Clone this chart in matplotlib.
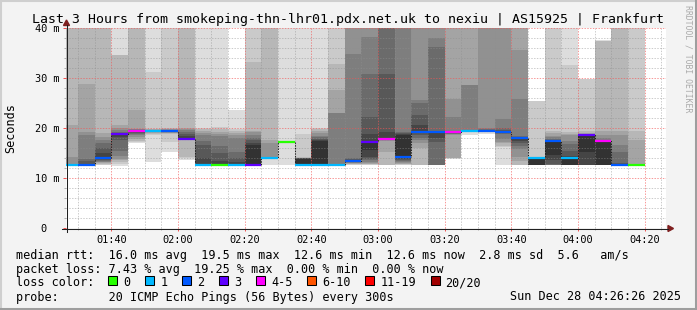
import matplotlib
matplotlib.use("Agg")
import matplotlib.pyplot as plt
from matplotlib.patches import Rectangle, Polygon
from matplotlib.ticker import MultipleLocator, FixedLocator

plt.rcParams['font.family'] = 'DejaVu Sans Mono'

# ---- data -------------------------------------------------------------
# start of each 5 minute slot, minutes after midnight (01:25 ... 04:15)
slot_start = [85, 90, 95, 100, 105, 110, 115, 120, 125, 130, 135, 140,
              145, 150, 155, 160, 165, 170, 175, 180, 185, 190, 195, 200,
              205, 210, 215, 220, 225, 230, 235, 240, 245, 250, 255]

# 20 sorted ping times (ms) per slot
pings = [
    [12.4, 12.5, 12.5, 12.5, 12.5, 12.5, 12.5, 12.6, 12.6, 12.6, 12.6, 12.6, 12.7, 12.7, 12.8, 14.3, 20.6, 45, 50, 50],
    [12.5, 12.5, 12.5, 12.5, 12.5, 12.5, 12.5, 12.5, 12.6, 12.6, 12.6, 12.8, 13.5, 13.9, 18.6, 19.3, 28.9, 45, 50, 50],
    [12.6, 12.7, 12.8, 13.0, 13.2, 13.3, 13.5, 13.7, 13.9, 14.0, 14.2, 15.0, 16.0, 17.0, 17.6, 18.3, 19.1, 45, 50, 50],
    [12.5, 12.9, 13.3, 13.6, 13.9, 14.5, 15.5, 17.6, 18.2, 18.8, 18.95, 19.0, 19.1, 19.3, 19.6, 20.0, 20.6, 34.6, 34.6, 50],
    [17.0, 17.2, 17.5, 17.9, 18.3, 18.6, 18.9, 19.1, 19.3, 19.4, 19.45, 19.5, 19.6, 19.7, 19.8, 19.9, 23.6, 45, 50, 50],
    [13.3, 18.6, 18.8, 19.0, 19.2, 19.3, 19.35, 19.35, 19.4, 19.4, 19.45, 19.5, 19.5, 19.55, 19.6, 19.7, 19.8, 19.9, 31.3, 50],
    [15.3, 17.3, 18.9, 19.0, 19.1, 19.2, 19.25, 19.3, 19.35, 19.4, 19.45, 19.5, 19.55, 19.6, 19.7, 19.8, 19.9, 20.0, 45, 50],
    [13.6, 14.0, 14.3, 17.6, 17.65, 17.7, 17.7, 17.75, 17.75, 17.8, 17.9, 18.5, 18.9, 19.3, 19.6, 19.9, 20.0, 45, 45, 50],
    [12.5, 12.5, 12.5, 12.5, 12.5, 12.5, 12.6, 12.6, 12.6, 12.6, 12.7, 14.0, 16.6, 17.5, 18.6, 19.0, 19.5, 19.9, 20.0, 50],
    [12.5, 12.5, 12.5, 12.5, 12.5, 12.5, 12.6, 12.6, 12.6, 12.6, 12.7, 13.5, 15.0, 16.5, 18.4, 18.8, 19.3, 19.8, 20.2, 50],
    [12.5, 12.5, 12.5, 12.5, 12.5, 12.5, 12.6, 12.6, 12.6, 12.6, 12.7, 13.2, 14.0, 15.3, 18.0, 18.6, 19.0, 19.5, 19.9, 23.6],
    [12.5, 12.5, 12.5, 12.5, 12.5, 12.5, 12.6, 12.6, 12.6, 12.6, 16.6, 17.0, 17.6, 18.0, 18.6, 19.3, 19.5, 33.3, 50, 50],
    [12.6, 14.0, 14.0, 14.05, 14.05, 14.05, 14.1, 14.1, 14.1, 14.1, 14.1, 14.15, 14.2, 14.2, 14.3, 17.0, 17.6, 45, 50, 50],
    [12.6, 17.1, 17.15, 17.2, 17.2, 17.2, 17.25, 17.25, 17.3, 17.3, 17.3, 17.3, 17.35, 17.35, 17.35, 17.4, 17.4, 17.45, 17.5, 50],
    [12.5, 12.5, 12.5, 12.5, 12.5, 12.6, 12.6, 12.6, 12.6, 12.6, 13.9, 14.0, 14.05, 14.05, 14.1, 14.1, 14.1, 14.15, 18.9, 50],
    [12.5, 12.5, 12.5, 12.5, 12.5, 12.6, 12.6, 12.6, 12.6, 12.6, 17.4, 17.6, 17.9, 18.2, 18.5, 19.0, 19.5, 19.9, 20.1, 50],
    [12.5, 12.5, 12.5, 12.5, 12.5, 12.6, 12.6, 12.6, 12.6, 12.6, 12.65, 12.7, 12.7, 12.8, 23.0, 23.1, 27.6, 32.9, 50, 50],
    [12.6, 12.7, 12.8, 12.9, 13.0, 13.1, 13.2, 13.3, 13.35, 13.4, 13.5, 13.6, 13.8, 14.0, 34.9, 42, 45, 50, 55, 60],
    [12.6, 12.7, 12.8, 12.9, 13.1, 13.3, 13.6, 13.9, 14.3, 15.6, 17.4, 18.9, 22.3, 30.9, 38.3, 42, 45, 50, 55, 60],
    [12.6, 12.6, 12.6, 15.3, 17.5, 17.6, 17.7, 17.75, 17.8, 17.85, 18.0, 19.3, 30.9, 41, 42, 43, 45, 50, 55, 60],
    [12.6, 12.7, 12.8, 12.9, 13.1, 13.3, 13.5, 13.7, 13.8, 14.0, 18.6, 18.8, 19.0, 19.3, 45, 46, 47, 50, 55, 60],
    [12.6, 12.6, 12.6, 16.0, 17.0, 17.6, 18.0, 18.7, 19.0, 19.2, 19.4, 20.6, 22.6, 25.0, 25.7, 45, 50, 55, 60, 60],
    [12.6, 12.6, 12.6, 12.6, 12.6, 12.6, 12.6, 17.3, 18.0, 19.2, 19.4, 19.45, 19.5, 36.3, 38.1, 45, 50, 55, 60, 60],
    [13.9, 14.0, 14.0, 14.0, 18.6, 18.8, 18.9, 19.0, 19.1, 19.2, 19.35, 19.4, 19.45, 19.5, 22.3, 25.9, 45, 50, 55, 60],
    [18.6, 19.25, 19.3, 19.3, 19.3, 19.3, 19.3, 19.35, 19.35, 19.4, 19.45, 19.5, 19.5, 19.6, 28.6, 28.7, 45, 50, 55, 60],
    [18.8, 19.4, 19.4, 19.4, 19.45, 19.45, 19.45, 19.5, 19.5, 19.5, 19.55, 19.6, 19.7, 19.8, 20.0, 45, 50, 55, 60, 60],
    [12.6, 16.2, 16.5, 17.0, 17.3, 17.9, 18.9, 19.0, 19.1, 19.2, 19.4, 19.4, 19.6, 20.0, 21.9, 45, 50, 55, 60, 60],
    [12.6, 12.6, 12.6, 13.5, 14.3, 15.9, 16.5, 17.0, 17.5, 18.0, 18.2, 18.2, 18.3, 18.4, 25.8, 35.6, 45, 50, 55, 60],
    [12.6, 12.6, 12.6, 12.6, 12.6, 12.6, 12.6, 12.6, 12.6, 12.6, 14.15, 14.15, 14.2, 14.2, 14.2, 14.2, 14.25, 14.3, 25.3, 25.4],
    [12.6, 12.6, 12.6, 12.6, 12.6, 12.6, 12.6, 12.8, 13.6, 14.6, 17.55, 17.6, 17.7, 17.8, 18.2, 18.4, 19.0, 19.4, 45, 50],
    [12.6, 12.6, 12.6, 12.6, 12.6, 12.6, 12.6, 12.6, 12.6, 12.6, 14.2, 14.5, 15.5, 16.9, 17.5, 18.6, 18.9, 19.2, 32.6, 50],
    [12.6, 12.6, 12.6, 12.6, 12.6, 12.6, 12.6, 12.6, 12.7, 15.3, 18.65, 18.7, 18.7, 18.8, 18.8, 18.9, 19.0, 19.3, 29.8, 29.9],
    [12.6, 12.6, 12.6, 12.6, 12.6, 12.6, 12.6, 12.6, 12.6, 12.7, 17.6, 17.6, 17.6, 17.7, 18.0, 18.6, 19.3, 37.4, 37.5, 37.6],
    [12.6, 12.6, 12.6, 12.6, 12.6, 12.6, 12.6, 12.6, 12.6, 12.6, 12.7, 12.8, 13.0, 15.3, 16.6, 18.6, 19.4, 45, 50, 55],
    [12.6, 12.6, 12.6, 12.6, 12.6, 12.6, 12.6, 12.6, 12.6, 12.6, 12.7, 12.7, 12.7, 12.7, 12.7, 12.8, 17.6, 19.4, 45, 50],
]

median = [12.6, 12.6, 14.1, 18.9, 19.4, 19.4, 19.4, 17.8, 12.6, 12.6, 12.6, 12.6,
          14.1, 17.3, 12.6, 12.6, 12.6, 13.4, 17.3, 17.8, 14.2, 19.3, 19.3, 19.3,
          19.4, 19.5, 19.3, 18.1, 14.1, 17.4, 14.1, 18.6, 17.4, 12.6, 12.6]

loss = [1, 2, 2, 3, 4, 1, 2, 3, 1, 0, 1, 3, 1, 0, 1, 1, 1, 2, 3, 4, 2, 2, 2, 4,
        1, 2, 2, 2, 1, 2, 1, 3, 4, 2, 0]

loss_labels = ["0", "1", "2", "3", "4-5", "6-10", "11-19", "20/20"]
loss_upper = [0, 1, 2, 3, 5, 10, 19, 20]
loss_colors = ["#26ff00", "#00b8ff", "#0059ff", "#5e00ff", "#ff00ff",
               "#ff5500", "#ff0000", "#a10000"]

x_major = [100, 120, 140, 160, 180, 200, 220, 240, 260]
x_labels = ["01:40", "02:00", "02:20", "02:40", "03:00", "03:20", "03:40",
            "04:00", "04:20"]
y_major = [0, 10, 20, 30, 40]
y_labels = ["0  ", "10 m", "20 m", "30 m", "40 m"]

title = "Last 3 Hours from smokeping-thn-lhr01.pdx.net.uk to nexiu | AS15925 | Frankfurt"
rtt_line = "median rtt:  16.0 ms avg  19.5 ms max  12.6 ms min  12.6 ms now  2.8 ms sd  5.6   am/s"
loss_line = "packet loss: 7.43 % avg  19.25 % max  0.00 % min  0.00 % now"
probe_line = "probe:       20 ICMP Echo Pings (56 Bytes) every 300s"
stamp = "Sun Dec 28 04:26:26 2025"

# ---- figure -----------------------------------------------------------
W, H = 697, 310
step = 5
t_from, t_to = 86 + 26 / 60, 266 + 26 / 60

fig = plt.figure(figsize=(W / 100, H / 100), dpi=100, facecolor="#f3f3f3")
ax = fig.add_axes([66 / W, 1 - 228 / H, 600 / W, 200 / H])
ax.set_facecolor("white")
ax.set_xlim(t_from, t_to)
ax.set_ylim(0, 40)

# smoke: band k spans ping k .. ping 21-k, darker towards the middle
for k in range(10):
    level = int(190 / 10 * (10 - (k + 1))) + 50
    grey = "#%02x%02x%02x" % (level, level, level)
    lows = [p[k] for p in pings]
    highs = [p[19 - k] for p in pings]
    ax.bar(slot_start, [h - l for l, h in zip(lows, highs)], width=step,
           bottom=lows, align="edge", color=grey, linewidth=0,
           antialiased=False, zorder=1)


def loss_color(n):
    for up, col in zip(loss_upper, loss_colors):
        if n <= up:
            return col
    return loss_colors[-1]


edges = slot_start + [slot_start[-1] + step]
ax.plot(edges, median + [median[-1]], drawstyle="steps-post", color="#202020",
        lw=0.75, ls=(0, (1.3, 1.3)), zorder=3)
ax.hlines(median, slot_start, [s + step for s in slot_start],
          colors=[loss_color(n) for n in loss], lw=1.6, zorder=4)

# grid
ax.xaxis.set_major_locator(FixedLocator(x_major))
ax.xaxis.set_minor_locator(MultipleLocator(5))
ax.yaxis.set_major_locator(FixedLocator(y_major))
ax.yaxis.set_minor_locator(MultipleLocator(2))
ax.set_xticklabels(x_labels)
ax.set_yticklabels(y_labels)
ax.set_axisbelow(False)
ax.grid(which="minor", color="#8f8f8f", alpha=0.45, lw=0.72, ls=(0, (1.4, 1.4)))
ax.grid(which="major", color="#f25555", alpha=0.6, lw=0.72, ls=(0, (1.4, 1.4)))
ax.tick_params(which="both", direction="out", labelsize=7.4, width=0.72)
ax.tick_params(which="major", length=2.2, color="#f25555", pad=2.6)
ax.tick_params(which="minor", length=1.5, color="#b0b0b0")
for s in ax.spines.values():
    s.set_visible(False)

# overlay in pixel coordinates for the rrdtool furniture
ov = fig.add_axes([0, 0, 1, 1], facecolor="none")
ov.set_xlim(0, W)
ov.set_ylim(H, 0)
ov.axis("off")

ov.plot([0, W], [1, 1], color="#cfcfcf", lw=1.5)
ov.plot([1, 1], [0, H], color="#cfcfcf", lw=1.5)
ov.plot([0, W], [H - 1.5, H - 1.5], color="#9e9e9e", lw=2.2)
ov.plot([W - 1.5, W - 1.5], [0, H], color="#9e9e9e", lw=2.2)

ov.plot([62, 668], [228.5, 228.5], color="#202020", lw=0.75)
ov.plot([66.5, 66.5], [232, 25], color="#202020", lw=0.75)
ov.add_patch(Polygon([[668, 225.5], [668, 231.5], [673.5, 228.5]], color="#7f1f1f"))
ov.add_patch(Polygon([[63.5, 25.5], [69.5, 25.5], [66.5, 20]], color="#7f1f1f"))

ov.text(W / 2, 23, title, fontsize=9.55, ha="center", va="baseline")
ov.text(10.5, 128, "Seconds", fontsize=8.5, rotation=90, ha="center", va="center")
ov.text(688, 59, "RRDTOOL / TOBI OETIKER", fontsize=5.9, rotation=270,
        ha="center", va="center", color="#aaaaaa")

ov.text(16, 258.5, rtt_line, fontsize=8.5, va="baseline")
ov.text(16, 272.5, loss_line, fontsize=8.5, va="baseline")
ov.text(16, 286.5, "loss color:", fontsize=8.5, va="baseline")
ov.text(16, 300.5, probe_line, fontsize=8.5, va="baseline")
ov.text(681, 300.5, stamp, fontsize=8.5, va="baseline", ha="right")

bx = 108.3
for lab, col in zip(loss_labels, loss_colors):
    ov.add_patch(Rectangle((bx, 276), 9, 9, facecolor=col, edgecolor="black", lw=0.75))
    ov.text(bx + 15, 286.5, lab, fontsize=8.5, va="baseline")
    bx = bx + 15 + len(lab) * 7.1 + 14.8

fig.savefig("out.png", dpi=100, facecolor=fig.get_facecolor())
